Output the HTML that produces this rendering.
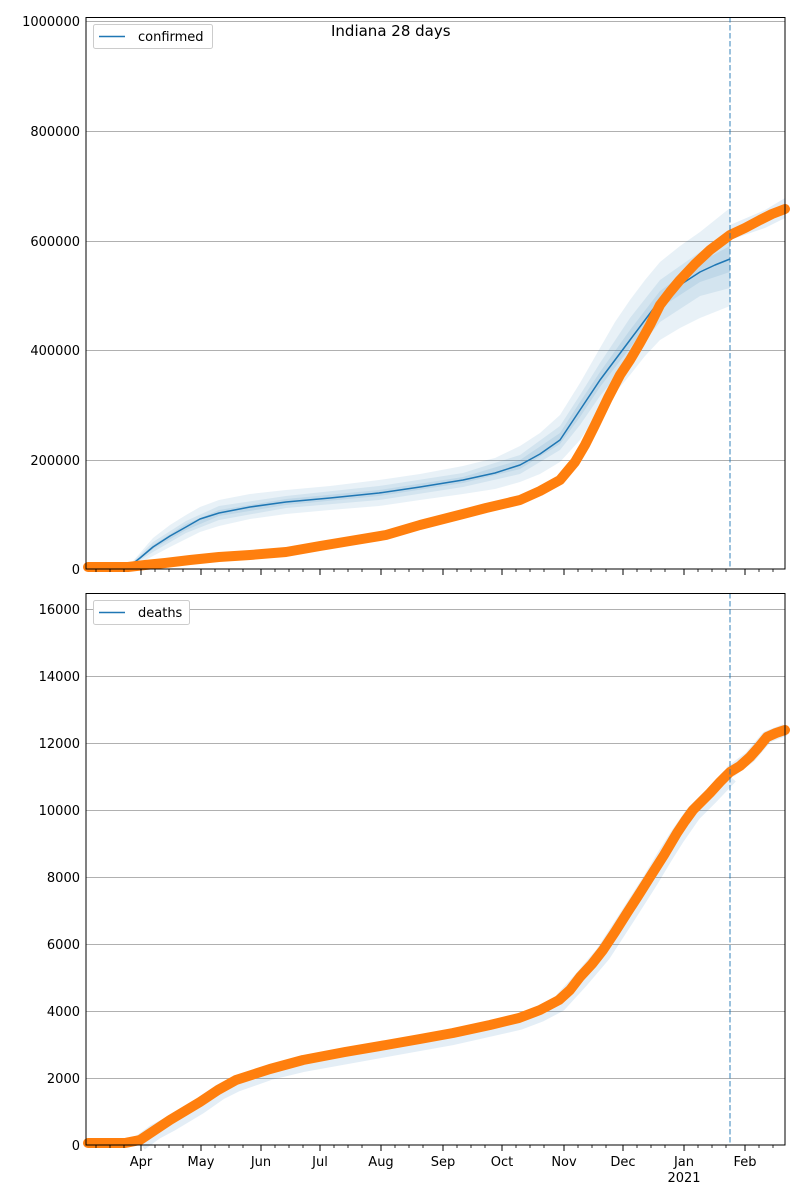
<!DOCTYPE html>
<html><head><meta charset="utf-8"><style>body{margin:0;background:#fff}svg{display:block;font-family:"DejaVu Sans","Liberation Sans",sans-serif}</style></head><body>
<svg width="800" height="1200" viewBox="0 0 800 1200" xmlns="http://www.w3.org/2000/svg">
<rect width="800" height="1200" fill="#fff"/>
<!-- TOP -->
<g stroke="#b0b0b0" stroke-width="1">
<line x1="86" x2="785" y1="21.5" y2="21.5"/><line x1="86" x2="785" y1="131.5" y2="131.5"/><line x1="86" x2="785" y1="241.5" y2="241.5"/><line x1="86" x2="785" y1="350.5" y2="350.5"/><line x1="86" x2="785" y1="460.5" y2="460.5"/>
</g>
<path d="M126,569 L140,553 L153,538 L170,525 L186,515 L200,507 L219,500 L250,494 L286,490 L330,486 L379,480 L420,474 L463,466 L495,458 L520,446 L540,433 L560,415 L580,383 L600,348 L615,322 L630,300 L645,280 L660,262 L680,246 L700,232 L715,220 L730,208 L730,306 L715,312 L700,318 L680,328 L660,340 L645,356 L630,375 L615,393 L600,410 L580,440 L560,462 L540,474 L520,482 L495,489 L463,494 L420,500 L379,506 L330,510 L286,514 L250,519 L219,526 L200,532 L186,539 L170,547 L153,556 L140,563 L126,569Z" fill="#1f77b4" fill-opacity="0.1"/>
<path d="M126,569 L153,542 L186,521 L219,506 L286,496 L379,486 L463,473 L520,455 L560,426 L580,395 L600,363 L630,318 L660,280 L700,252 L730,232 L730,288 L700,296 L660,322 L630,360 L600,396 L580,425 L560,450 L520,474 L463,487 L379,500 L286,508 L219,520 L186,533 L153,552 L126,569Z" fill="#1f77b4" fill-opacity="0.1"/>
<path d="M126,569 L153,545 L186,524 L219,510 L286,499 L379,490 L463,477 L520,460 L560,433 L580,402 L600,372 L630,330 L660,291 L700,262 L730,246 L730,272 L700,282 L660,308 L630,348 L600,387 L580,417 L560,444 L520,469 L463,483 L379,496 L286,505 L219,516 L186,530 L153,549 L126,569Z" fill="#1f77b4" fill-opacity="0.1"/>
<path d="M730,225 L765,210 L785,198 L785,218 L765,228 L730,240 Z" fill="#1f77b4" fill-opacity="0.12"/>
<polyline fill="none" stroke="#1f77b4" stroke-width="1.5" stroke-linejoin="round" points="86,569 126,569 140,558 153,547 170,536 186,527 200,519 219,513 250,507 286,502 330,498 379,493 420,487 463,480 495,473 520,465 540,454 560,440 580,410 600,380 615,360 630,340 645,320 660,300 680,285 700,272 715,265 730,259"/>
<polyline fill="none" stroke="#ff7f0e" stroke-width="10" stroke-linejoin="round" stroke-linecap="round" points="88,567 128,567 145,565 165,563 190,560 219,557 250,555 286,552 320,546 350,541 386,535 420,525 463,514 486,508 520,500 540,491 560,480 575,462 585,445 595,425 608,398 620,375 630,360 640,343 650,325 660,305 670,292 680,280 695,264 710,250 730,235 745,228 760,220 772,214 785,209"/>
<line x1="730" x2="730" y1="17" y2="569" stroke="#1f77b4" stroke-opacity="0.6" stroke-width="1.5" stroke-dasharray="5.5,2.5"/>
<rect x="86" y="17.5" width="699" height="551.5" fill="none" stroke="#000" stroke-width="1"/>
<g font-size="13" text-anchor="end" fill="#000">
<text x="80" y="26">1000000</text><text x="80" y="136">800000</text><text x="80" y="246">600000</text><text x="80" y="355">400000</text><text x="80" y="465">200000</text><text x="80" y="574">0</text>
</g>
<text x="331" y="36" font-size="15">Indiana 28 days</text>
<rect x="93.5" y="24.5" width="119" height="24" rx="2" fill="#fff" stroke="#ccc"/>
<line x1="99" x2="125" y1="36.5" y2="36.5" stroke="#1f77b4" stroke-width="1.5"/>
<text x="138" y="41" font-size="13">confirmed</text>
<!-- BOTTOM -->
<g stroke="#b0b0b0" stroke-width="1">
<line x1="86" x2="785" y1="609.5" y2="609.5"/><line x1="86" x2="785" y1="676.5" y2="676.5"/><line x1="86" x2="785" y1="743.5" y2="743.5"/><line x1="86" x2="785" y1="810.5" y2="810.5"/><line x1="86" x2="785" y1="877.5" y2="877.5"/><line x1="86" x2="785" y1="944.5" y2="944.5"/><line x1="86" x2="785" y1="1011.5" y2="1011.5"/><line x1="86" x2="785" y1="1078.5" y2="1078.5"/>
</g>
<polyline fill="none" stroke="#1f77b4" stroke-opacity="0.12" stroke-width="16" stroke-linejoin="round" points="140,1143 155,1132 170,1124 200,1106 220,1092 236,1084 270,1072 303,1064 386,1049 453,1037 519,1022 540,1014 559,1004 580,981 603,954 627,917 650,881 665,856 677,837 693,814 710,797 730,776"/>
<polyline fill="none" stroke="#1f77b4" stroke-opacity="0.12" stroke-width="12" stroke-linejoin="round" points="730,772 750,757 767,737 785,730"/>
<polyline fill="none" stroke="#ff7f0e" stroke-width="10" stroke-linejoin="round" stroke-linecap="round" points="88,1143 125,1143 140,1140 155,1130 170,1120 185,1111 200,1102 218,1090 236,1080 270,1069 303,1060 345,1052 386,1045 420,1039 453,1033 490,1025 519,1018 540,1010 559,1000 570,990 580,977 592,964 603,950 615,932 627,913 638,896 650,877 664,855 677,833 685,821 693,810 702,801 710,793 720,782 730,772 740,766 750,757 758,748 767,737 776,733 785,730"/>
<line x1="730" x2="730" y1="593" y2="1145" stroke="#1f77b4" stroke-opacity="0.6" stroke-width="1.5" stroke-dasharray="5.5,2.5"/>
<rect x="86" y="593.5" width="699" height="551.5" fill="none" stroke="#000" stroke-width="1"/>
<g font-size="13" text-anchor="end">
<text x="80" y="614">16000</text><text x="80" y="681">14000</text><text x="80" y="748">12000</text><text x="80" y="815">10000</text><text x="80" y="882">8000</text><text x="80" y="949">6000</text><text x="80" y="1016">4000</text><text x="80" y="1083">2000</text><text x="80" y="1150">0</text>
</g>
<rect x="93.5" y="600.5" width="96" height="24" rx="2" fill="#fff" stroke="#ccc"/>
<line x1="99" x2="125" y1="612.5" y2="612.5" stroke="#1f77b4" stroke-width="1.5"/>
<text x="138" y="617" font-size="13">deaths</text>
<!-- x major ticks -->
<g stroke="#000" stroke-width="1">
<line x1="141" x2="141" y1="569" y2="575"/><line x1="201" x2="201" y1="569" y2="575"/><line x1="261" x2="261" y1="569" y2="575"/><line x1="320" x2="320" y1="569" y2="575"/><line x1="381" x2="381" y1="569" y2="575"/><line x1="443" x2="443" y1="569" y2="575"/><line x1="502" x2="502" y1="569" y2="575"/><line x1="564" x2="564" y1="569" y2="575"/><line x1="623" x2="623" y1="569" y2="575"/><line x1="684" x2="684" y1="569" y2="575"/><line x1="745" x2="745" y1="569" y2="575"/>
<line x1="141" x2="141" y1="1145" y2="1151"/><line x1="201" x2="201" y1="1145" y2="1151"/><line x1="261" x2="261" y1="1145" y2="1151"/><line x1="320" x2="320" y1="1145" y2="1151"/><line x1="381" x2="381" y1="1145" y2="1151"/><line x1="443" x2="443" y1="1145" y2="1151"/><line x1="502" x2="502" y1="1145" y2="1151"/><line x1="564" x2="564" y1="1145" y2="1151"/><line x1="623" x2="623" y1="1145" y2="1151"/><line x1="684" x2="684" y1="1145" y2="1151"/><line x1="745" x2="745" y1="1145" y2="1151"/>
</g>
<!-- minor ticks -->
<g stroke="#000" stroke-width="0.8">
<path d="M96,569v3M110,569v3M124,569v3M155,569v3M169,569v3M183,569v3M215,569v3M229,569v3M243,569v3M275,569v3M289,569v3M303,569v3M334,569v3M348,569v3M362,569v3M395,569v3M409,569v3M423,569v3M457,569v3M471,569v3M485,569v3M516,569v3M530,569v3M544,569v3M578,569v3M592,569v3M606,569v3M637,569v3M651,569v3M665,569v3M698,569v3M712,569v3M726,569v3M759,569v3M773,569v3"/>
<path d="M96,1145v3M110,1145v3M124,1145v3M155,1145v3M169,1145v3M183,1145v3M215,1145v3M229,1145v3M243,1145v3M275,1145v3M289,1145v3M303,1145v3M334,1145v3M348,1145v3M362,1145v3M395,1145v3M409,1145v3M423,1145v3M457,1145v3M471,1145v3M485,1145v3M516,1145v3M530,1145v3M544,1145v3M578,1145v3M592,1145v3M606,1145v3M637,1145v3M651,1145v3M665,1145v3M698,1145v3M712,1145v3M726,1145v3M759,1145v3M773,1145v3"/>
</g>
<g font-size="13" text-anchor="middle">
<text x="141" y="1166">Apr</text><text x="201" y="1166">May</text><text x="261" y="1166">Jun</text><text x="320" y="1166">Jul</text><text x="381" y="1166">Aug</text><text x="443" y="1166">Sep</text><text x="502" y="1166">Oct</text><text x="564" y="1166">Nov</text><text x="623" y="1166">Dec</text><text x="684" y="1166">Jan</text><text x="745" y="1166">Feb</text><text x="684" y="1182">2021</text>
</g>
</svg>
</body></html>
